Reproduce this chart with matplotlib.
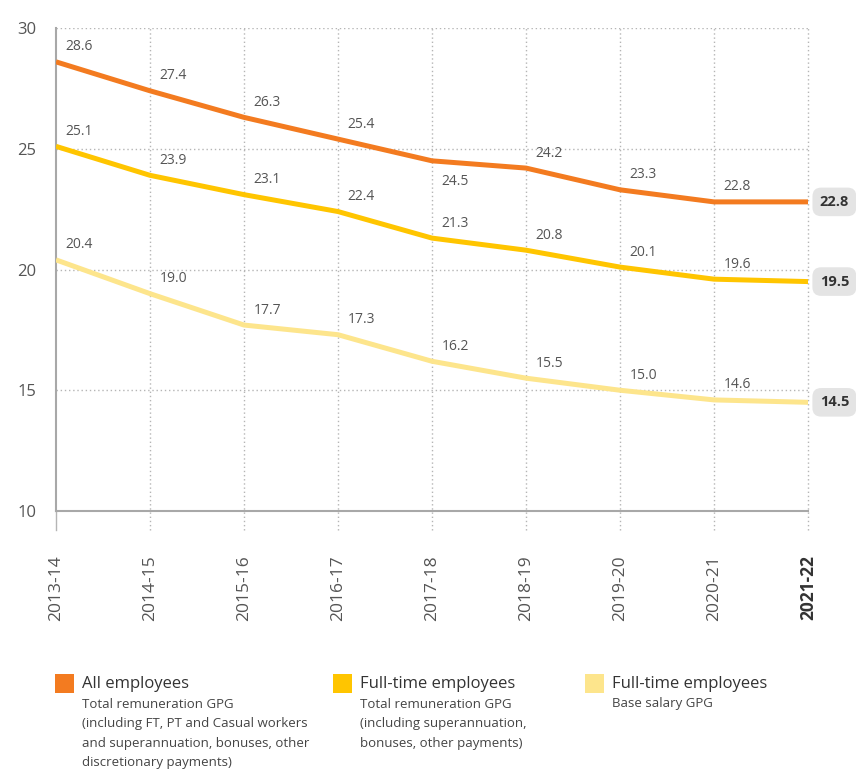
import matplotlib.pyplot as plt
from matplotlib.patches import Rectangle
from matplotlib.transforms import blended_transform_factory

plt.rcParams['font.family'] = ['Open Sans', 'DejaVu Sans']

# data
years = ["2013-14", "2014-15", "2015-16", "2016-17", "2017-18",
         "2018-19", "2019-20", "2020-21", "2021-22"]
all_total = [28.6, 27.4, 26.3, 25.4, 24.5, 24.2, 23.3, 22.8, 22.8]
ft_total = [25.1, 23.9, 23.1, 22.4, 21.3, 20.8, 20.1, 19.6, 19.5]
ft_base = [20.4, 19.0, 17.7, 17.3, 16.2, 15.5, 15.0, 14.6, 14.5]

c_all = "#F37B20"
c_ft = "#FFC500"
c_base = "#FDE58C"
grey_txt = "#555555"

fig = plt.figure(figsize=(8.56, 7.74), dpi=100)
ax = fig.add_axes([0.0654, 0.3398, 0.8786, 0.624])

x = list(range(len(years)))
series = [(all_total, c_all), (ft_total, c_ft), (ft_base, c_base)]
for vals, col in series:
    ax.plot(x, vals, color=col, lw=3.6, solid_joinstyle='round',
            solid_capstyle='butt', zorder=3)

# value labels (skip the last point, it gets a box)
for vals, col in series:
    for i, v in enumerate(vals[:-1]):
        dy = 0.62
        if vals is all_total and i == 4:
            dy = -0.85
        ax.text(i + 0.1, v + dy, f"{v:.1f}", fontsize=10, color=grey_txt,
                ha='left', va='center', zorder=4)
    ax.text(len(years) - 1 + 0.28, vals[-1], f"{vals[-1]:.1f}", fontsize=10.5,
            fontweight='bold', color="#333333", ha='center', va='center',
            clip_on=False,
            bbox=dict(boxstyle='round,pad=0.5,rounding_size=0.6',
                      fc='#E4E4E4', ec='none'))

ax.set_xlim(0, len(years) - 1)
ax.set_ylim(10, 30)
ax.set_yticks([10, 15, 20, 25, 30])
ax.tick_params(axis='y', length=0, pad=14, labelsize=12, labelcolor=grey_txt)
ax.tick_params(axis='x', length=0, pad=32)
ax.set_xticks(x)
ax.set_xticklabels(years, rotation=90, fontsize=12.5, color=grey_txt)
ax.get_xticklabels()[-1].set_fontweight('bold')
ax.get_xticklabels()[-1].set_color('#333333')

# dotted grid
for yv in [15, 20, 25, 30]:
    ax.axhline(yv, color='#b5b5b5', lw=1, ls=(0, (1, 2)), zorder=1)
trans = blended_transform_factory(ax.transData, ax.transAxes)
for i in x[1:]:
    ax.plot([i, i], [-0.04, 1], transform=trans, color='#b5b5b5', lw=1,
            ls=(0, (1, 2)), clip_on=False, zorder=1)
ax.plot([0, 0], [-0.04, 0], transform=trans, color='#b5b5b5', lw=1,
        clip_on=False)

for s in ['top', 'right']:
    ax.spines[s].set_visible(False)
for s in ['left', 'bottom']:
    ax.spines[s].set_color('#a8a8a8')
    ax.spines[s].set_linewidth(1.5)

# legend drawn by hand
legend_items = [
    (c_all, "All employees",
     ["Total remuneration GPG", "(including FT, PT and Casual workers",
      "and superannuation, bonuses, other", "discretionary payments)"], 55),
    (c_ft, "Full-time employees",
     ["Total remuneration GPG", "(including superannuation,",
      "bonuses, other payments)"], 333),
    (c_base, "Full-time employees", ["Base salary GPG"], 585),
]
W, H = 856, 774
for col, title, lines, px in legend_items:
    fig.patches.append(Rectangle((px / W, 1 - 693 / H), 19 / W, 19 / H,
                                 transform=fig.transFigure, fc=col, ec='none'))
    fig.text((px + 27) / W, 1 - 684 / H, title, fontsize=12, color='#333333',
             va='center', ha='left')
    for k, ln in enumerate(lines):
        fig.text((px + 27) / W, 1 - (704 + 19.5 * k) / H, ln, fontsize=9.5,
                 color='#444444', va='center', ha='left')

fig.savefig("out.png", dpi=100)
